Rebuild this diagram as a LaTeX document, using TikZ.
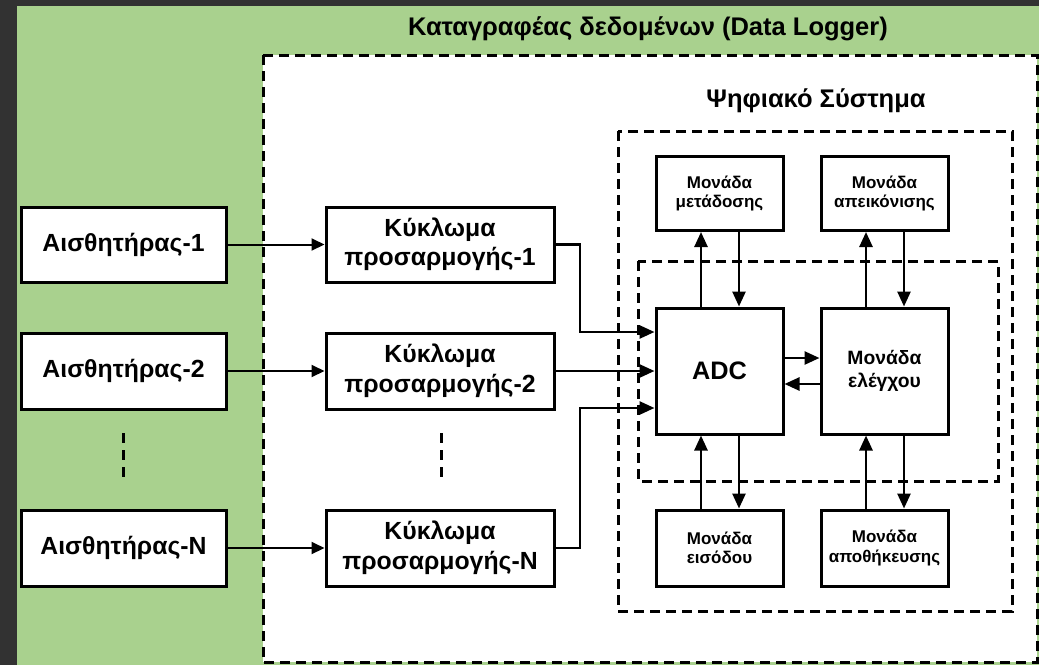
\documentclass[tikz,border=0pt]{standalone}
\usepackage{fontspec}
\setmainfont{Liberation Sans}
\usetikzlibrary{arrows.meta}
\definecolor{frame}{HTML}{323232}
\definecolor{leaf}{HTML}{A9D18E}
\tikzset{
  box/.style={draw=black, line width=3pt, fill=white, inner sep=0pt, align=center, font=\bfseries},
  bigbox/.style={box, font=\fontsize{24.8}{29.5}\selectfont\bfseries},
  unitbox/.style={box, minimum width=127pt, font=\fontsize{17}{19.5}\selectfont\bfseries},
  arr/.style={line width=2.6pt, -{Triangle[length=15pt,width=13pt]}},
  thinarr/.style={line width=2pt, -{Triangle[length=13pt,width=12pt]}},
  region/.style={draw=black, line width=3pt, dash pattern=on 10pt off 6pt},
  ellipsis/.style={draw=black, line width=3pt, dash pattern=on 10pt off 7pt},
  heading/.style={font=\fontsize{25.5}{30}\selectfont\bfseries, inner sep=0pt}
}
\begin{document}
\begin{tikzpicture}[x=1pt, y=-1pt]
\useasboundingbox (0,0) rectangle (1039,665);
% background and frame
\fill[frame] (0,0) rectangle (1039,665);
\fill[leaf] (17,6) rectangle (1039,665);

% grouping regions
\filldraw[region, fill=white] (263,55) rectangle (1037,662);
\draw[region] (618,131) rectangle (1012,611);
\draw[region] (638,261) rectangle (998,481);

% headings
\node[heading] (title) at (648,29) {Καταγραφέας δεδομένων (Data Logger)};
\node[heading] (dsys) at (816,101) {Ψηφιακό Σύστημα};

% sensors
\node[bigbox, minimum width=205pt, minimum height=75pt] (S1) at (123.5,244.5) {Αισθητήρας-1};
\node[bigbox, minimum width=205pt, minimum height=76pt] (S2) at (123.5,371) {Αισθητήρας-2};
\node[bigbox, minimum width=205pt, minimum height=76pt] (SN) at (123.5,548) {Αισθητήρας-N};

% conditioning circuits
\node[bigbox, minimum width=228pt, minimum height=75pt] (C1) at (440,244.5) {Κύκλωμα\\προσαρμογής-1};
\node[bigbox, minimum width=228pt, minimum height=76pt] (C2) at (440,371) {Κύκλωμα\\προσαρμογής-2};
\node[bigbox, minimum width=228pt, minimum height=76pt] (CN) at (440,548) {Κύκλωμα\\προσαρμογής-N};

% vertical ellipsis marks
\coordinate (e1a) at (123,433); \coordinate (e1b) at (123,481);
\coordinate (e2a) at (441,433); \coordinate (e2b) at (441,481);
\draw[ellipsis] (e1a) -- (e1b);
\draw[ellipsis] (e2a) -- (e2b);

% digital system
\node[box, minimum width=127pt, minimum height=126pt, font=\fontsize{25.3}{29}\selectfont\bfseries] (ADC) at (719.5,371) {ADC};
\node[box, minimum width=127pt, minimum height=126pt, font=\fontsize{19.3}{22.5}\selectfont\bfseries] (CTRL) at (884.5,371) {Μονάδα\\ελέγχου};
\node[unitbox, minimum height=74pt] (TX) at (719.5,193.5) {Μονάδα\\μετάδοσης};
\node[unitbox, minimum height=74pt] (DISP) at (884.5,193.5) {Μονάδα\\απεικόνισης};
\node[unitbox, minimum height=76pt] (IN) at (719.5,548) {Μονάδα\\εισόδου};
\node[unitbox, minimum height=76pt] (STORE) at (884.5,548) {Μονάδα\\αποθήκευσης};

% sensors to circuits
\draw[thinarr] (S1) -- (C1);
\draw[thinarr] (S2) -- (C2);
\draw[thinarr] (SN) -- (CN);

% circuits to ADC
\coordinate (b1) at (580,332);
\coordinate (b3) at (580,408);
\draw[arr] (C1.east) -| (b1) -- (b1 -| ADC.west);
\draw[arr] (C2) -- (ADC);
\draw[arr] (CN.east) -| (b3) -- (b3 -| ADC.west);

% ADC <-> control unit
\coordinate (h1) at (800,358);
\coordinate (h2) at (800,384);
\draw[arr] (h1 -| ADC.east) -- (h1 -| CTRL.west);
\draw[arr] (h2 -| CTRL.west) -- (h2 -| ADC.east);

% vertical links
\coordinate (va) at (701,0);
\coordinate (vb) at (739,0);
\coordinate (vc) at (866,0);
\coordinate (vd) at (904,0);
\draw[arr] (va |- ADC.north) -- (va |- TX.south);
\draw[arr] (vb |- TX.south) -- (vb |- ADC.north);
\draw[arr] (vc |- CTRL.north) -- (vc |- DISP.south);
\draw[arr] (vd |- DISP.south) -- (vd |- CTRL.north);
\draw[arr] (va |- IN.north) -- (va |- ADC.south);
\draw[arr] (vb |- ADC.south) -- (vb |- IN.north);
\draw[arr] (vc |- STORE.north) -- (vc |- CTRL.south);
\draw[arr] (vd |- CTRL.south) -- (vd |- STORE.north);
\end{tikzpicture}
\end{document}
